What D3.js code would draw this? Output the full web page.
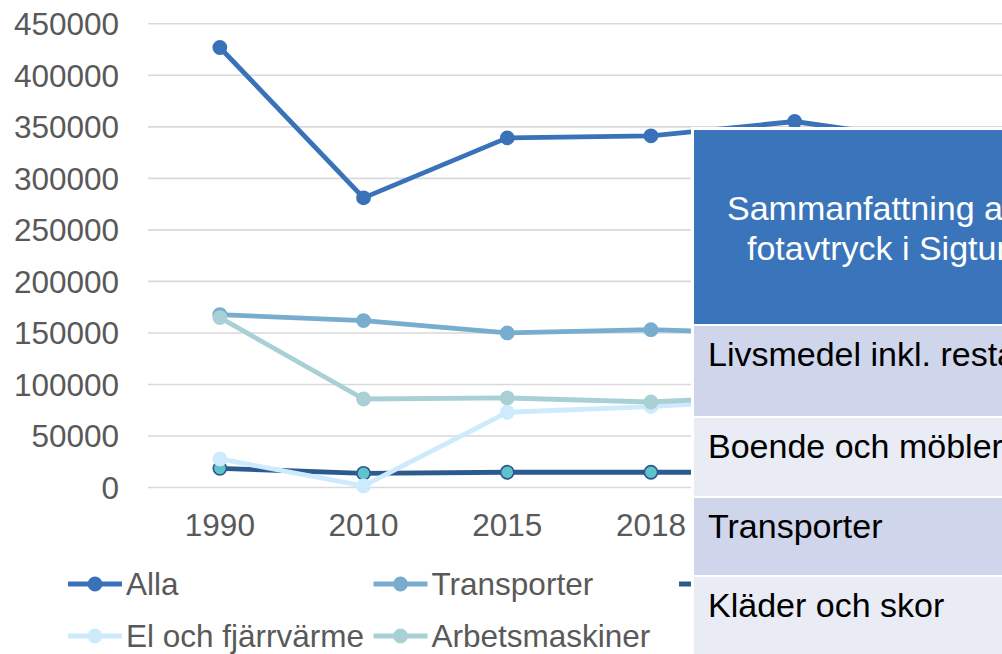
<!DOCTYPE html>
<html>
<head>
<meta charset="utf-8">
<script src="https://cdn.jsdelivr.net/npm/d3@7"></script>
<style>
  body { margin: 0; background: #fff; overflow: hidden; }
  text { font-family: "Liberation Sans", Arial, sans-serif; }
</style>
</head>
<body>
<div id="container"></div>
<script>
      //Data
      var years = ["1990", "2010", "2015", "2018", "2019", "2020"];
      var alla = [426500, 280600, 338800, 340800, 354700, 335000];
      var transporter = [167300, 161500, 149500, 152700, 148500, 146000];
      var industri = [18100, 13300, 14300, 14300, 14300, 14000];
      var elFjarrvarme = [27200, 1000, 72500, 78000, 86000, 84000];
      var arbetsmaskiner = [164400, 85400, 86400, 82500, 89000, 86000];
      var yTicks = [0, 50000, 100000, 150000, 200000, 250000, 300000, 350000, 400000, 450000];
      var tableHeader = ["Sammanfattning av", "fotavtryck i Sigtuna"];
      var tableRows = ["Livsmedel inkl. restaurang", "Boende och möbler", "Transporter", "Kläder och skor"];

      var series = [
        { name: "Alla", values: alla, color: "#3A72B9", fill: "#3A72B9" },
        { name: "Transporter", values: transporter, color: "#78ADD0", fill: "#78ADD0" },
        { name: "Industri", values: industri, color: "#2C5A8F", fill: "#5FC3C9" },
        { name: "El och fjärrvärme", values: elFjarrvarme, color: "#CDEBFD", fill: "#CDEBFD" },
        { name: "Arbetsmaskiner", values: arbetsmaskiner, color: "#A9D0D5", fill: "#A9D0D5" }
      ];

      //Width and height
      var w = 1002;
      var h = 654;
      var left = 148, step = 143.7;
      var tx = 694; // left edge of the overlay table

      var svg = d3.select("#container")
            .append("svg")
            .attr("width", w)
            .attr("height", h);

      //Scales
      var x = d3.scaleBand()
            .domain(years)
            .range([left, left + step * years.length]);
      var y = d3.scaleLinear()
            .domain([0, 450000])
            .range([487, 23.3]);
      var cx = function(d, i) { return x(years[i]) + x.bandwidth() / 2; };

      //Gridlines + y labels
      var yAxis = svg.append("g")
            .attr("transform", "translate(" + left + ",0)")
            .call(d3.axisLeft(y).tickValues(yTicks).tickFormat(d3.format("d"))
                  .tickSize(-(step * years.length)).tickPadding(29));
      yAxis.select(".domain").remove();
      yAxis.selectAll("line").attr("stroke", "#D9D9D9").attr("stroke-width", 1.6);
      yAxis.selectAll("text").attr("fill", "#595959").style("font-size", "31.5px").attr("dy", "0.36em");

      //x labels (the ones under the table are covered anyway)
      var xAxis = svg.append("g")
            .attr("transform", "translate(0,487)")
            .call(d3.axisBottom(x).tickSize(0).tickPadding(27));
      xAxis.select(".domain").remove();
      xAxis.selectAll("text").attr("fill", "#595959").style("font-size", "31.5px");
      xAxis.selectAll(".tick").filter(function(d) { return x(d) + x.bandwidth() / 2 > tx; }).remove();

      //Lines
      var line = d3.line()
            .x(cx)
            .y(function(d) { return y(d); });

      series.forEach(function(s) {
        var g = svg.append("g");
        g.append("path")
          .attr("d", line(s.values))
          .attr("fill", "none")
          .attr("stroke", s.color)
          .attr("stroke-width", 4.8)
          .attr("stroke-linejoin", "round");
        g.selectAll("circle")
          .data(s.values)
          .enter()
          .append("circle")
          .attr("cx", cx)
          .attr("cy", function(d) { return y(d); })
          .attr("r", 6.6)
          .attr("fill", s.fill)
          .attr("stroke", s.color)
          .attr("stroke-width", 1.6);
      });

      //Legend
      var legend = svg.append("g");
      series.forEach(function(s, i) {
        var lx = 68 + (i % 3) * 305.5;
        var ly = 584 + Math.floor(i / 3) * 52;
        var item = legend.append("g").attr("transform", "translate(" + lx + "," + ly + ")");
        item.append("line")
          .attr("x1", 0).attr("x2", 54)
          .attr("stroke", s.color).attr("stroke-width", 4.8);
        item.append("circle")
          .attr("cx", 27).attr("r", 6.6)
          .attr("fill", s.fill).attr("stroke", s.color).attr("stroke-width", 1.6);
        if (lx + 58 < tx) {
          item.append("text")
            .attr("x", 58).attr("y", 11)
            .attr("fill", "#595959")
            .style("font-size", "31.5px")
            .text(s.name);
        }
      });

      //Overlay table
      var table = svg.append("g");
      table.append("rect")
        .attr("x", tx - 3).attr("y", 127)
        .attr("width", 400).attr("height", 540)
        .attr("fill", "#fff");
      table.append("rect")
        .attr("x", tx).attr("y", 130)
        .attr("width", 400).attr("height", 194)
        .attr("fill", "#3A74BA");
      table.selectAll(".head")
        .data(tableHeader)
        .enter()
        .append("text")
        .attr("x", function(d, i) { return i === 0 ? 727 : 747; })
        .attr("y", function(d, i) { return 220 + i * 40; })
        .attr("fill", "#fff")
        .style("font-size", "34px")
        .text(function(d) { return d; });

      var rowTops = [326, 418, 498, 577];
      var rowHeights = [90, 78, 77, 90];
      var rowFills = ["#CFD5EA", "#E9EBF5"];
      var rows = table.selectAll(".row")
        .data(tableRows)
        .enter()
        .append("g");
      rows.append("rect")
        .attr("x", tx)
        .attr("y", function(d, i) { return rowTops[i]; })
        .attr("width", 400)
        .attr("height", function(d, i) { return rowHeights[i]; })
        .attr("fill", function(d, i) { return rowFills[i % 2]; });
      rows.append("text")
        .attr("x", 708)
        .attr("y", function(d, i) { return rowTops[i] + 40; })
        .attr("fill", "#000")
        .style("font-size", "34px")
        .text(function(d) { return d; });
</script>
</body>
</html>
